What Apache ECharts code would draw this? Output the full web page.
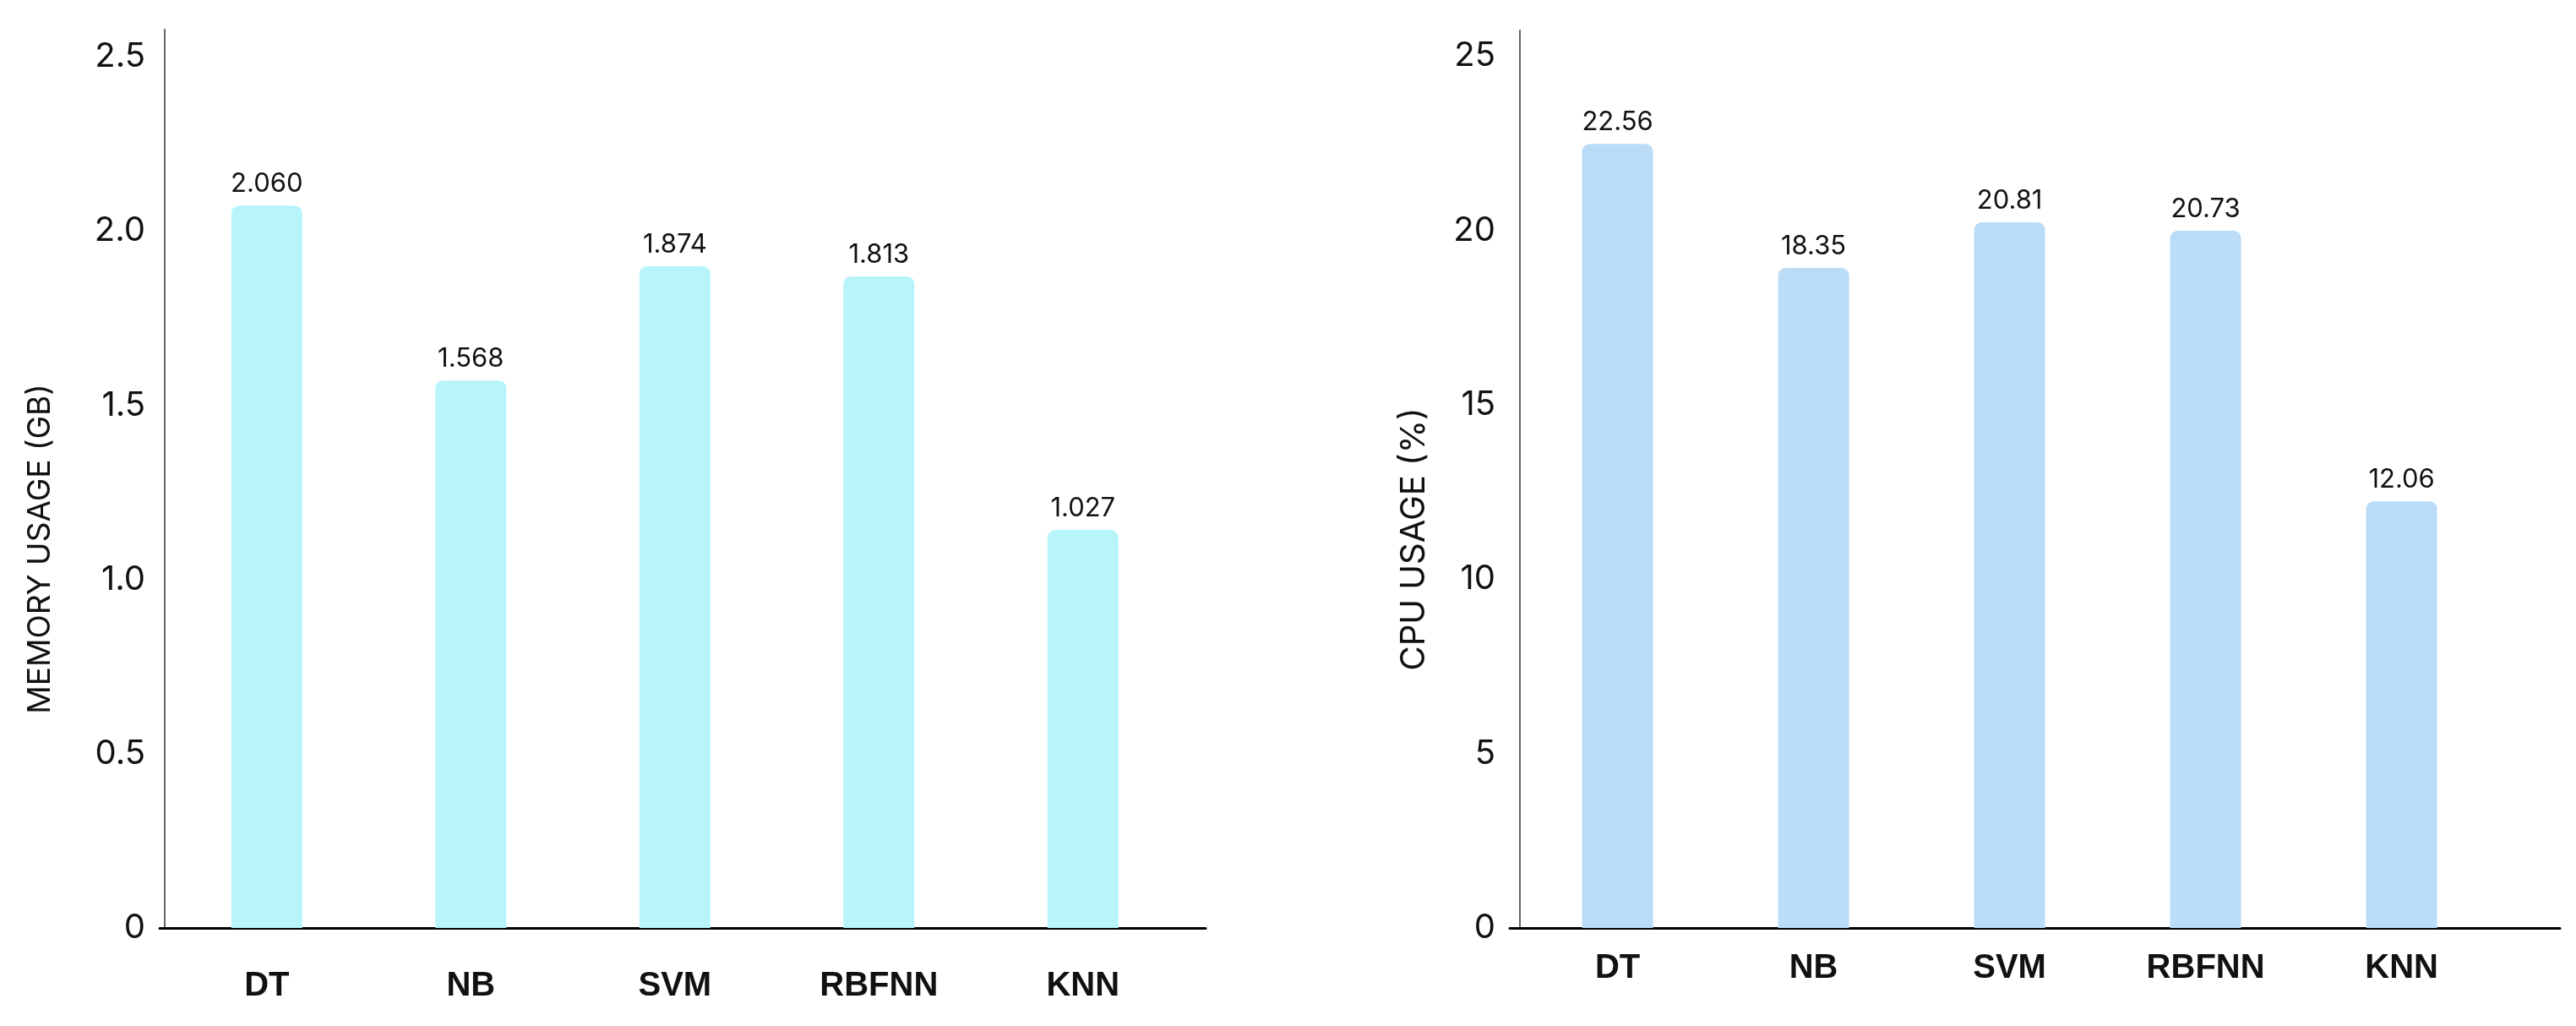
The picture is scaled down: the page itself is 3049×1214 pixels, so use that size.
<!DOCTYPE html>
<html><head><meta charset="utf-8">
<script src="https://cdn.jsdelivr.net/npm/echarts@6/dist/echarts.min.js"></script>
<style>html,body{margin:0;padding:0;background:#fff}#c{width:3049px;height:1214px}</style>
</head><body><div id="c"></div>
<script>
const categories = ['DT', 'NB', 'SVM', 'RBFNN', 'KNN'];
const memoryValues = [2.073, 1.571, 1.899, 1.870, 1.142];
const memoryLabels = ['2.060', '1.568', '1.874', '1.813', '1.027'];
const cpuValues = [22.48, 18.92, 20.23, 19.99, 12.23];
const cpuLabels = ['22.56', '18.35', '20.81', '20.73', '12.06'];
const memoryTicks = ['0', '0.5', '1.0', '1.5', '2.0', '2.5'];
const cpuTicks = ['0', '5', '10', '15', '20', '25'];

const chart = echarts.init(document.getElementById('c'), null, {renderer: 'canvas'});

function catLabel(v) {
  const k = Math.round(v - 0.5);
  return (Math.abs(v - 0.5 - k) < 1e-6 && k >= 0 && k < categories.length) ? categories[k] : '';
}
function tickLabel(ticks, step) {
  return function (v) {
    const k = Math.round(v / step);
    return (Math.abs(v - k * step) < 1e-6 && k >= 0 && k < ticks.length) ? ticks[k] : '';
  };
}
function makeX(gridIndex, min, max, margin) {
  return {
    type: 'value', gridIndex, min, max, interval: 0.025,
    axisLine: {show: true, onZero: false, lineStyle: {color: '#000', width: 3}},
    axisTick: {show: false}, splitLine: {show: false},
    axisLabel: {margin, fontFamily: 'Liberation Sans', fontWeight: 'bold', fontSize: 40, color: '#111',
      showMinLabel: false, showMaxLabel: false, formatter: catLabel}
  };
}
function makeY(gridIndex, max, step, ticks, name, nameGap, shift, nameSize) {
  return {
    type: 'value', gridIndex, min: 0, max, interval: step,
    axisLine: {show: true, lineStyle: {color: '#666', width: 2}},
    axisTick: {show: false}, splitLine: {show: false},
    axisLabel: {margin: 17, fontFamily: 'Inter', fontSize: 40, color: '#111', showMaxLabel: false,
      formatter: tickLabel(ticks, step)},
    name, nameLocation: 'middle', nameGap, nameRotate: 90,
    nameTextStyle: {fontFamily: 'Inter', fontSize: nameSize, color: '#111', padding: [0, shift, 0, 0]}
  };
}
function makeBar(idx, values, labels, color) {
  return {
    type: 'bar', xAxisIndex: idx, yAxisIndex: idx, barWidth: 84,
    data: values.map((v, i) => [i + 0.5, v]),
    itemStyle: {color, borderRadius: [9, 9, 0, 0]},
    label: {show: true, position: 'top', distance: 10, fontFamily: 'Inter', fontSize: 31, color: '#111',
      formatter: p => labels[p.dataIndex]},
    silent: true
  };
}

chart.setOption({
  animation: false,
  backgroundColor: '#fff',
  grid: [
    {left: 189, right: 3049 - 1427, top: 35, bottom: 1214 - 1098},
    {left: 1787, right: 3049 - 3030, top: 36, bottom: 1214 - 1098}
  ],
  xAxis: [
    makeX(0, -0.025, -0.025 + 1238 / 241.5, 49),
    makeX(1, -0.05, -0.05 + 1243 / 232, 28)
  ],
  yAxis: [
    makeY(0, 2.578, 0.5, memoryTicks, 'MEMORY USAGE (GB)', 123, 166, 37),
    makeY(1, 25.73, 5, cpuTicks, 'CPU USAGE (%)', 93, 142, 40)
  ],
  series: [
    makeBar(0, memoryValues, memoryLabels, '#B8F5FB'),
    makeBar(1, cpuValues, cpuLabels, '#BADCF7')
  ]
});
</script></body></html>
